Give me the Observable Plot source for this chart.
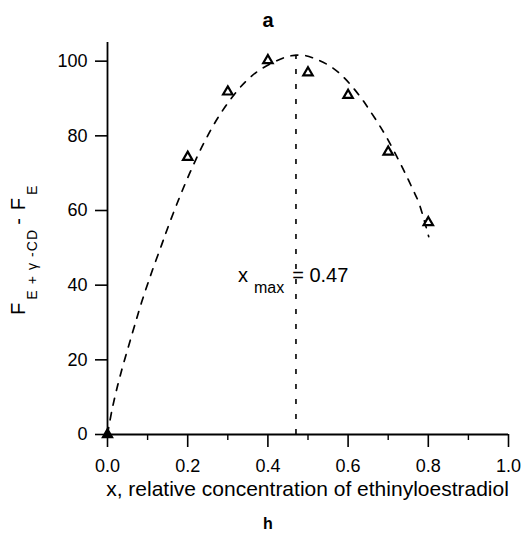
<!DOCTYPE html>
<html><head><meta charset="utf-8">
<script src="https://cdn.jsdelivr.net/npm/d3@7"></script>
<script src="https://cdn.jsdelivr.net/npm/@observablehq/plot@0.6"></script>
<style>body{margin:0;background:#fff;} svg{display:block;}</style>
</head><body><div id="chart"></div>
<script>
// measured points (x = relative concentration, y = F(E+γ-CD) - F(E))
const pointX = [0, 0.2, 0.3, 0.4, 0.5, 0.6, 0.7, 0.8];
const pointY = [0, 74.3, 91.8, 100.2, 96.9, 90.9, 75.7, 56.8];
// dashed fitted curve
const fitX = [0, 0.012, 0.031, 0.063, 0.085, 0.11, 0.135, 0.149, 0.174, 0.205, 0.24, 0.278, 0.323, 0.352, 0.382, 0.448, 0.486, 0.519, 0.556, 0.585, 0.61, 0.635, 0.654, 0.677, 0.696, 0.726, 0.746, 0.762, 0.776, 0.801];
const fitY = [0, 7, 15.5, 27.5, 35.4, 43.4, 50.8, 55.0, 62.0, 70.0, 78.0, 85.3, 92.0, 95.3, 97.8, 101.2, 101.6, 100.6, 98.6, 96.1, 93.2, 89.8, 86.8, 83.0, 79.6, 73.5, 69.2, 65.5, 62.2, 53.0];
const xMax = 0.47;
const yAtXMax = 101.6;
const annotY = 40.7;
const xTicks = [0, 0.2, 0.4, 0.6, 0.8, 1.0];
const xMinorTicks = [0.1, 0.3, 0.5, 0.7, 0.9];
const yTicks = [0, 20, 40, 60, 80, 100];
const panelTop = "a";
const panelBottom = "h";
const xLabel = "x, relative concentration of ethinyloestradiol";

const points = pointX.map((x, i) => ({x, y: pointY[i]}));
const fit = fitX.map((x, i) => ({x, y: fitY[i]}));
const font = "'Liberation Sans', Arial, Helvetica, sans-serif";

const plot = Plot.plot({
  width: 522, height: 534,
  marginLeft: 107, marginRight: 14, marginTop: 42, marginBottom: 100,
  style: {fontFamily: font, fontSize: "18px", color: "#000", background: "#fff", overflow: "visible"},
  x: {domain: [0, 1]},
  y: {domain: [0, 105]},
  marks: [
    Plot.ruleX([0], {stroke: "#000", strokeWidth: 1.8}),
    Plot.ruleY([0], {stroke: "#000", strokeWidth: 1.8}),
    Plot.axisY({ticks: yTicks, tickSize: 12, tickPadding: 8, label: null, fontSize: 18, strokeWidth: 1.6}),
    Plot.axisX({ticks: xTicks, tickSize: 13, tickPadding: 12, tickFormat: d3.format(".1f"), label: null, fontSize: 18, strokeWidth: 1.6}),
    Plot.axisX({ticks: xMinorTicks, tickSize: 6, tickFormat: () => "", label: null, strokeWidth: 1.4}),
    Plot.line(fit, {x: "x", y: "y", curve: "catmull-rom", stroke: "#000", strokeWidth: 1.7, strokeDasharray: "7,8"}),
    Plot.ruleX([xMax], {y1: 0, y2: yAtXMax, stroke: "#000", strokeWidth: 1.6, strokeDasharray: "5,10"}),
    Plot.dot(points, {filter: d => d.x !== 0, x: "x", y: "y", symbol: "triangle", r: 3.5, stroke: "#000", strokeWidth: 2.2, fill: "#fff"}),
    Plot.dot(points, {filter: d => d.x === 0, x: "x", y: "y", symbol: "triangle", r: 3.8, stroke: "#000", strokeWidth: 1.5, fill: "#000"})
  ]
});
document.getElementById("chart").appendChild(plot);

const svg = d3.select(plot);
const xs = plot.scale("x"), ys = plot.scale("y");

// x-axis title, centred under the frame
svg.append("text").attr("x", (xs.apply(0) + xs.apply(1)) / 2).attr("y", 496).attr("text-anchor", "middle")
  .attr("font-family", font).attr("font-size", 21).attr("fill", "#000").text(xLabel);

// panel letters
svg.append("text").attr("x", 268).attr("y", 27).attr("text-anchor", "middle")
  .attr("font-family", font).attr("font-size", 20).attr("font-weight", "bold").attr("fill", "#000").text(panelTop);
svg.append("text").attr("x", 268).attr("y", 529).attr("text-anchor", "middle")
  .attr("font-family", font).attr("font-size", 16).attr("font-weight", "bold").attr("fill", "#000").text(panelBottom);

// y-axis label with subscripts
const yl = svg.append("text")
  .attr("transform", "translate(25,315) rotate(-90)")
  .attr("text-anchor", "start").attr("letter-spacing", 1.1)
  .attr("font-family", font).attr("fill", "#000");
yl.append("tspan").attr("font-size", 20).text("F");
yl.append("tspan").attr("font-size", 14).attr("dy", 12).attr("dx", 2).text("E + γ -CD");
yl.append("tspan").attr("font-size", 20).attr("dy", -12).attr("dx", 4).text("- F");
yl.append("tspan").attr("font-size", 14).attr("dy", 12).attr("dx", 2).text("E");

// x_max annotation anchored on the vertical line
const ax = xs.apply(xMax);
const ay = ys.apply(annotY);
const at = svg.append("text").attr("x", ax - 57.5).attr("y", ay)
  .attr("text-anchor", "start").attr("font-family", font).attr("fill", "#000");
at.append("tspan").attr("font-size", 20).text("x");
at.append("tspan").attr("font-size", 16).attr("dx", 6).attr("dy", 11).text("max");
at.append("tspan").attr("font-size", 20).attr("dx", 8).attr("dy", -11).text("= " + xMax.toFixed(2));
</script>
</body></html>
